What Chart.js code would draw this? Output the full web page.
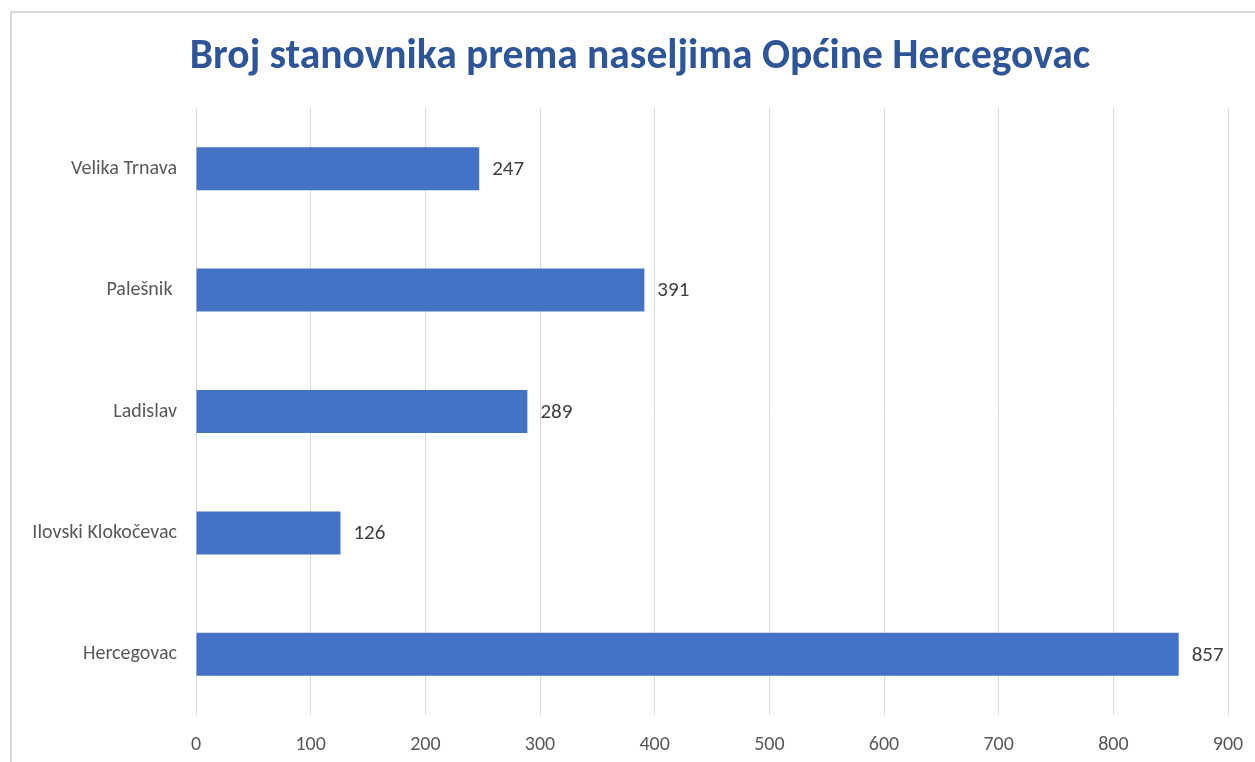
<!DOCTYPE html>
<html>
<head>
<meta charset="utf-8">
<script src="https://cdn.jsdelivr.net/npm/chart.js@4/dist/chart.umd.min.js"></script>
<style>
html,body{margin:0;padding:0;background:#fff;}
#wrap{width:1255px;height:762px;position:relative;}
</style>
</head>
<body>
<div id="wrap"><canvas id="c" width="1255" height="762"></canvas></div>
<script>
const categories = ['Velika Trnava', 'Palešnik ', 'Ladislav', 'Ilovski Klokočevac', 'Hercegovac'];
const population = [247, 391, 289, 126, 857];
const xTicks = [0, 100, 200, 300, 400, 500, 600, 700, 800, 900];
const titleText = 'Broj stanovnika prema naseljima Općine Hercegovac';

const FONT = "Carlito, Calibri, 'Open Sans', 'Liberation Sans', sans-serif";

const frame = {
  id: 'frame',
  beforeDraw(chart) {
    const ctx = chart.ctx;
    ctx.save();
    ctx.strokeStyle = '#d9d9d9';
    ctx.lineWidth = 2;
    ctx.beginPath();
    ctx.moveTo(11, 770);
    ctx.lineTo(11, 12);
    ctx.lineTo(1260, 12);
    ctx.stroke();
    ctx.restore();
  }
};

const titleDraw = {
  id: 'titleDraw',
  afterDraw(chart) {
    const ctx = chart.ctx;
    ctx.save();
    ctx.font = "bold 41.5px " + FONT;
    ctx.fillStyle = '#2F5597';
    ctx.textAlign = 'center';
    ctx.textBaseline = 'middle';
    ctx.fillText(titleText, 640, 58);
    ctx.restore();
  }
};

const valueLabels = {
  id: 'valueLabels',
  afterDatasetsDraw(chart) {
    const ctx = chart.ctx;
    const meta = chart.getDatasetMeta(0);
    ctx.save();
    ctx.font = "21px " + FONT;
    ctx.fillStyle = '#404040';
    ctx.textAlign = 'left';
    ctx.textBaseline = 'middle';
    meta.data.forEach((bar, i) => {
      ctx.fillText(String(population[i]), bar.x + 13, bar.y + 1);
    });
    ctx.restore();
  }
};

new Chart(document.getElementById('c'), {
  type: 'bar',
  data: {
    labels: categories,
    datasets: [{
      data: population,
      backgroundColor: '#4472C4',
      borderWidth: 0,
      categoryPercentage: 1,
      barPercentage: 0.354
    }]
  },
  options: {
    indexAxis: 'y',
    responsive: false,
    animation: false,
    layout: { padding: { left: 0, right: 27, top: 108, bottom: 0 } },
    plugins: {
      legend: { display: false },
      tooltip: { enabled: false },
      title: { display: false }
    },
    scales: {
      x: {
        min: 0, max: 900,
        afterBuildTicks(scale) { scale.ticks = xTicks.map(v => ({ value: v })); },
        grid: { color: '#d9d9d9', lineWidth: 1, drawTicks: false },
        border: { display: false },
        ticks: { color: '#595959', font: { family: FONT, size: 20 }, padding: 18 },
        afterFit(scale) {
          scale.height = 762 - 715;
          scale.paddingLeft = 0;
          scale.paddingRight = 0;
        }
      },
      y: {
        grid: { display: false, drawTicks: false },
        border: { display: false },
        ticks: { color: '#595959', font: { family: FONT, size: 20 }, padding: 19 },
        afterFit(scale) { scale.width = 196; scale.paddingTop = 0; scale.paddingBottom = 0; }
      }
    }
  },
  plugins: [frame, valueLabels, titleDraw]
});
</script>
</body>
</html>
